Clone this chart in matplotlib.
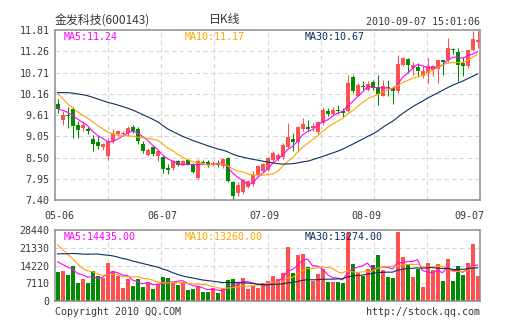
import numpy as np
import matplotlib
matplotlib.use("Agg")
import matplotlib.pyplot as plt
import pandas as pd

# 金发科技 600143, daily candles 2010-05-06 .. 2010-09-07
open_ = [9.89, 9.48, 9.60, 9.76, 9.34, 9.27, 9.25, 8.98, 8.90, 8.78,
         8.53, 8.92, 9.11, 9.11, 9.14, 9.29, 9.25, 8.85, 8.56, 8.77,
         8.53, 8.51, 8.22, 8.23, 8.40, 8.32, 8.43, 8.32, 7.97, 8.39,
         8.38, 8.33, 8.36, 8.27, 8.49, 7.87, 7.58, 7.61, 7.75, 7.81,
         8.05, 8.16, 8.18, 8.44, 8.46, 8.52, 8.77, 8.98, 8.91, 9.23,
         9.30, 9.26, 9.17, 9.39, 9.72, 9.63, 9.74, 9.71, 9.72, 10.59,
         10.11, 10.35, 10.26, 10.45, 10.32, 10.11, 10.33, 10.30, 10.22, 10.91,
         11.06, 10.82, 10.85, 10.61, 10.69, 10.78, 10.80, 11.02, 11.02, 11.32,
         11.24, 10.95, 10.87, 11.30, 11.50]
high = [10.02, 9.70, 9.80, 9.81, 9.46, 9.44, 9.29, 9.09, 9.05, 8.88,
        9.01, 9.24, 9.22, 9.18, 9.31, 9.35, 9.29, 8.92, 8.74, 8.80,
        8.70, 8.53, 8.34, 8.45, 8.45, 8.45, 8.46, 8.36, 8.46, 8.45,
        8.45, 8.40, 8.45, 8.49, 8.51, 7.89, 7.86, 7.95, 7.92, 8.14,
        8.30, 8.37, 8.52, 8.66, 8.62, 8.88, 9.39, 9.14, 9.32, 9.52,
        9.48, 9.40, 9.45, 9.81, 9.79, 9.80, 9.86, 9.78, 10.63, 10.65,
        10.43, 10.48, 10.48, 10.50, 10.65, 10.52, 10.52, 10.35, 11.15, 11.10,
        11.08, 10.99, 10.95, 10.87, 11.08, 10.91, 11.04, 11.04, 11.60, 11.35,
        11.34, 11.10, 11.30, 11.79, 11.79]
low = [9.66, 9.35, 9.28, 9.01, 9.01, 9.18, 9.11, 8.66, 8.73, 8.70,
       8.45, 8.88, 9.05, 9.05, 9.05, 9.14, 8.84, 8.62, 8.53, 8.53,
       8.42, 8.10, 8.08, 8.18, 8.28, 8.30, 8.32, 8.10, 7.95, 8.33,
       8.25, 8.28, 8.25, 8.22, 7.87, 7.40, 7.50, 7.55, 7.70, 7.77,
       8.00, 8.12, 8.14, 8.40, 8.42, 8.47, 8.75, 8.66, 8.65, 9.20,
       9.18, 9.20, 9.12, 9.35, 9.58, 9.60, 9.62, 9.55, 9.68, 10.18,
       10.09, 10.26, 10.22, 10.25, 9.87, 10.09, 10.09, 9.89, 10.18, 10.88,
       10.69, 10.65, 10.61, 10.56, 10.43, 10.61, 10.43, 10.65, 10.99, 11.20,
       10.48, 10.61, 10.82, 11.26, 11.34]
close = [9.76, 9.61, 9.57, 9.33, 9.22, 9.35, 9.18, 8.84, 8.79, 8.85,
         8.92, 9.14, 9.20, 9.15, 9.27, 9.18, 8.94, 8.68, 8.71, 8.59,
         8.66, 8.20, 8.19, 8.42, 8.31, 8.42, 8.32, 8.13, 8.42, 8.37,
         8.32, 8.36, 8.30, 8.46, 7.90, 7.50, 7.80, 7.91, 7.88, 8.06,
         8.27, 8.33, 8.48, 8.61, 8.57, 8.83, 9.04, 8.90, 9.30, 9.37,
         9.25, 9.33, 9.43, 9.74, 9.63, 9.73, 9.72, 9.66, 10.43, 10.22,
         10.38, 10.33, 10.41, 10.30, 10.14, 10.36, 10.31, 10.22, 10.93, 11.08,
         10.91, 10.91, 10.74, 10.75, 10.87, 10.87, 11.02, 10.99, 11.34, 11.28,
         10.91, 10.87, 11.30, 11.57, 11.55]
volume = [11430, 12140, 10430, 13860, 7140, 8720, 7140, 12140, 10000, 9290,
          15290, 12140, 10000, 5000, 8570, 6140, 8570, 5720, 7430, 4570,
          6720, 9570, 9290, 7430, 6430, 7720, 4140, 4860, 6000, 3570,
          3570, 5290, 3140, 4570, 8430, 8720, 7430, 9290, 4570, 6000,
          5290, 7000, 8140, 10000, 8860, 11000, 21720, 11290, 18570, 19000,
          13570, 8140, 10720, 12860, 7430, 7430, 7430, 7000, 27150, 14860,
          11290, 10000, 12720, 14290, 18570, 12290, 9570, 9290, 27720, 17710,
          15000, 9570, 12720, 5720, 15290, 12545, 14800, 8140, 16800, 8140,
          13935, 10290, 15290, 22800, 9860]

# the 29 sessions before 05-06, only used to seed the moving averages
prior_close = [9.61, 9.57, 9.75, 9.85, 9.90, 9.98, 10.05, 10.10, 10.15, 10.20,
               10.15, 10.30, 10.40, 10.51, 10.60, 10.65, 10.50, 10.45, 10.50, 10.60,
               11.00, 10.95, 10.40, 10.25, 10.30, 9.85, 9.80, 9.75, 9.70]
prior_volume = [9800, 11500, 9200, 10800, 12300, 9400, 10200, 8900,
                17800, 21500, 19600, 24300, 22800, 18900, 26200, 23500,
                20800, 22100, 19400, 21300,
                31200, 28400, 33600, 27900, 26800,
                17200, 15800, 18400, 15600]

date_labels = ["05-06", "06-07", "07-09", "08-09", "09-07"]
price_labels = ["7.40", "7.95", "8.50", "9.05", "9.61", "10.16", "10.71", "11.26", "11.81"]
vol_labels = ["0", "7110", "14220", "21330", "28440"]
ma_periods = [5, 10, 30]

RED = "#ff5050"
GREEN = "#008c00"
MA_COLORS = ["#ff00ff", "#ffa500", "#0b2f5e"]
GRID = "#d6d6d6"
FRAME = "#8c8c8c"
TXT = "#383838"
MONO = "DejaVu Sans Mono"
CJK = ["Noto Sans CJK SC", "DejaVu Sans"]

plt.rcParams["font.family"] = [MONO]


def moving_avgs(prior, values):
    s = pd.Series(list(prior) + list(values), dtype=float)
    return [s.rolling(n).mean().to_numpy()[len(prior):] for n in ma_periods]


W, H = 505, 330
fig = plt.figure(figsize=(W / 100, H / 100), dpi=100)
fig.patch.set_facecolor("white")


def px_axes(left, top, right, bottom):
    return fig.add_axes([left / W, 1 - bottom / H, (right - left) / W, (bottom - top) / H])


ax_p = px_axes(55, 30, 480, 200)
ax_v = px_axes(55, 230.3, 480, 300.7)

n = len(close)
x = np.arange(n)
o, hi, lo, c = (np.asarray(a, dtype=float) for a in (open_, high, low, close))
up = c >= o
colors = np.where(up, RED, GREEN)

# grid + frame
vgrid = -0.5 + n / 8 * np.arange(1, 8)
for ax, ymin, ymax, nlab in ((ax_p, 7.40, 11.81, len(price_labels)),
                             (ax_v, 0, 28440, len(vol_labels))):
    ax.set_xlim(-0.5, n - 0.5)
    ax.set_ylim(ymin, ymax)
    ticks = np.linspace(ymin, ymax, nlab)
    ax.set_yticks(ticks)
    for yv in ticks[1:-1]:
        ax.axhline(yv, color=GRID, lw=0.8, ls=(0, (4, 3)), zorder=0)
    for xv in vgrid:
        ax.axvline(xv, color=GRID, lw=0.8, ls=(0, (4, 3)), zorder=0)
    for sp in ax.spines.values():
        sp.set_color(FRAME)
        sp.set_linewidth(1.1)
    ax.tick_params(length=0, labelsize=7.2, labelcolor=TXT, pad=4)

ax_p.set_yticklabels(price_labels)
ax_v.set_yticklabels(vol_labels)
ax_p.set_xticks(np.linspace(0.4, 82.3, len(date_labels)))
ax_p.set_xticklabels(date_labels)
ax_p.tick_params(axis="x", pad=8)
ax_v.set_xticks([])

# candles
ax_p.vlines(x, lo, hi, colors=colors, linewidth=0.75, zorder=2)
ax_p.bar(x, np.maximum(np.abs(c - o), 0.02), bottom=np.minimum(o, c),
         width=0.8, color=colors, linewidth=0, zorder=3)

# volume bars
ax_v.bar(x, volume, width=0.8, color=colors, linewidth=0, zorder=2)

price_ma = moving_avgs(prior_close, close)
vol_ma = moving_avgs(prior_volume, volume)
for ma, col in zip(price_ma, MA_COLORS):
    ax_p.plot(x, ma, color=col, lw=0.8, zorder=4)
for ma, col in zip(vol_ma, MA_COLORS):
    ax_v.plot(x, ma, color=col, lw=0.8, zorder=4)

# MA readouts
label_x = [0.021, 0.306, 0.588]
for per, ma, col, lx in zip(ma_periods, price_ma, MA_COLORS, label_x):
    ax_p.text(lx, 0.959, f"MA{per}:{ma[-1]:.2f}", transform=ax_p.transAxes,
              color=col, fontsize=7.2, va="center", ha="left")
for per, ma, col, lx in zip(ma_periods, vol_ma, MA_COLORS, label_x):
    ax_v.text(lx, 0.905, f"MA{per}:{ma[-1]:.2f}", transform=ax_v.transAxes,
              color=col, fontsize=7.2, va="center", ha="left")

# header and footer
fig.text(55 / W, 1 - 20 / H, "金发科技(600143)", family=CJK, fontsize=8.6,
         color=TXT, ha="left", va="center")
fig.text(225 / W, 1 - 20 / H, "日K线", family=CJK, fontsize=8.6,
         color=TXT, ha="center", va="center")
fig.text(480 / W, 1 - 22 / H, "2010-09-07 15:01:06", fontsize=7.2,
         color=TXT, ha="right", va="center")
fig.text(55 / W, 1 - 312 / H, "Copyright 2010 QQ.COM", fontsize=7.2,
         color=TXT, ha="left", va="center")
fig.text(480 / W, 1 - 312 / H, "http://stock.qq.com", fontsize=7.2,
         color=TXT, ha="right", va="center")

fig.savefig("out.png", dpi=100)
